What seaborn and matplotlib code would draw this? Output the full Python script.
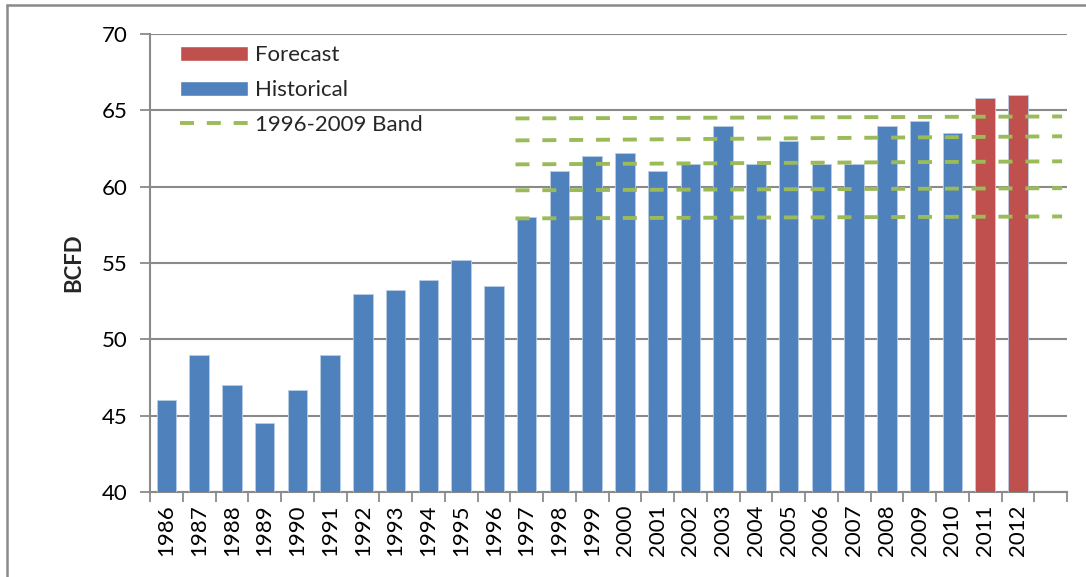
import matplotlib
matplotlib.use("Agg")
import matplotlib.pyplot as plt
from matplotlib.lines import Line2D
from matplotlib.patches import Patch
import seaborn as sns
import pandas as pd
import numpy as np

# Annual gas demand, BCFD
years = [str(y) for y in range(1986, 2013)] + [""]
historical = [46.0, 49.0, 47.0, 44.5, 46.7, 49.0, 53.0, 53.2, 53.9, 55.2,
              53.5, 58.0, 61.0, 62.0, 62.2, 61.0, 61.5, 64.0, 61.5, 63.0,
              61.5, 61.5, 64.0, 64.3, 63.5]
forecast = [65.8, 66.0]

# 1996-2009 band lines: value at the left end and at the right end
band_left = [64.47, 63.03, 61.46, 59.76, 57.92]
band_right = [64.60, 63.30, 61.66, 59.90, 58.05]
band_x = [10.66, 27.35]  # category positions where the band lines begin and end

blue = "#4F81BD"
red = "#C0504D"
green = "#9BBB59"
grid_gray = "#8A8A8A"

values = historical + forecast + [np.nan]
kinds = ["Historical"] * len(historical) + ["Forecast"] * len(forecast) + ["Historical"]
df = pd.DataFrame({"year": years, "value": values, "kind": kinds})

sns.set_theme(style="white")
plt.rcParams["font.family"] = ["Lato", "DejaVu Sans"]
FS = 16

fig = plt.figure(figsize=(10.86, 5.77), dpi=100)
ax = fig.add_axes([150 / 1086, 85 / 577, 917 / 1086, 458 / 577])

sns.barplot(data=df, x="year", y="value", hue="kind",
            palette={"Historical": blue, "Forecast": red},
            hue_order=["Historical", "Forecast"], dodge=False,
            width=0.6, saturation=1, legend=False, ax=ax, zorder=3)
for p in ax.patches:
    p.set_edgecolor("#B9CDE5")
    p.set_linewidth(0.6)

DASH = (3.6, 3.3)
for l, r in zip(band_left, band_right):
    ax.plot(band_x, [l, r], color=green, lw=2.8, dashes=DASH, zorder=4,
            dash_capstyle="butt")

ax.set_ylim(40, 70)
ax.set_xlim(-0.5, len(years) - 0.5)
ax.set_yticks(range(40, 71, 5))
ax.yaxis.grid(True, color=grid_gray, lw=1.5, zorder=0)
ax.set_axisbelow(True)

# Category boundary ticks below the axis
ax.set_xticks(np.arange(len(years)))
ax.set_xticklabels(years, rotation=90, fontsize=FS, color="black")
ax.set_xticks(np.arange(-0.5, len(years)), minor=True)
ax.tick_params(axis="x", which="major", length=0, pad=9)
ax.tick_params(axis="x", which="minor", length=7, width=1.3, color=grid_gray, bottom=True)
ax.tick_params(axis="y", length=7, width=1.3, color=grid_gray, left=True,
               labelsize=FS, labelcolor="black", pad=9)

for s in ["top", "right"]:
    ax.spines[s].set_visible(False)
for s in ["left", "bottom"]:
    ax.spines[s].set_color(grid_gray)
    ax.spines[s].set_linewidth(1.5)

ax.set_xlabel("")
ax.set_ylabel("BCFD", fontsize=FS, fontweight="bold", labelpad=13)

handles = [Patch(facecolor=red, label="Forecast"),
           Patch(facecolor=blue, label="Historical"),
           Line2D([0], [0], color=green, lw=2.8, dashes=DASH, label="1996-2009 Band")]
ax.legend(handles=handles, loc="upper left", bbox_to_anchor=(30 / 917, 0.975),
          frameon=False, fontsize=FS, handlelength=3.05, handleheight=0.63,
          handletextpad=0.32, labelspacing=0.66, borderpad=0, borderaxespad=0)

# Outer frame edges
fig.add_artist(Line2D([7 / 1086, 7 / 1086], [0, 1 - 5 / 577], transform=fig.transFigure,
                      color=grid_gray, lw=1.8))
fig.add_artist(Line2D([7 / 1086, 1], [1 - 5 / 577, 1 - 5 / 577], transform=fig.transFigure,
                      color=grid_gray, lw=1.8))

fig.savefig("out.png", dpi=100)
